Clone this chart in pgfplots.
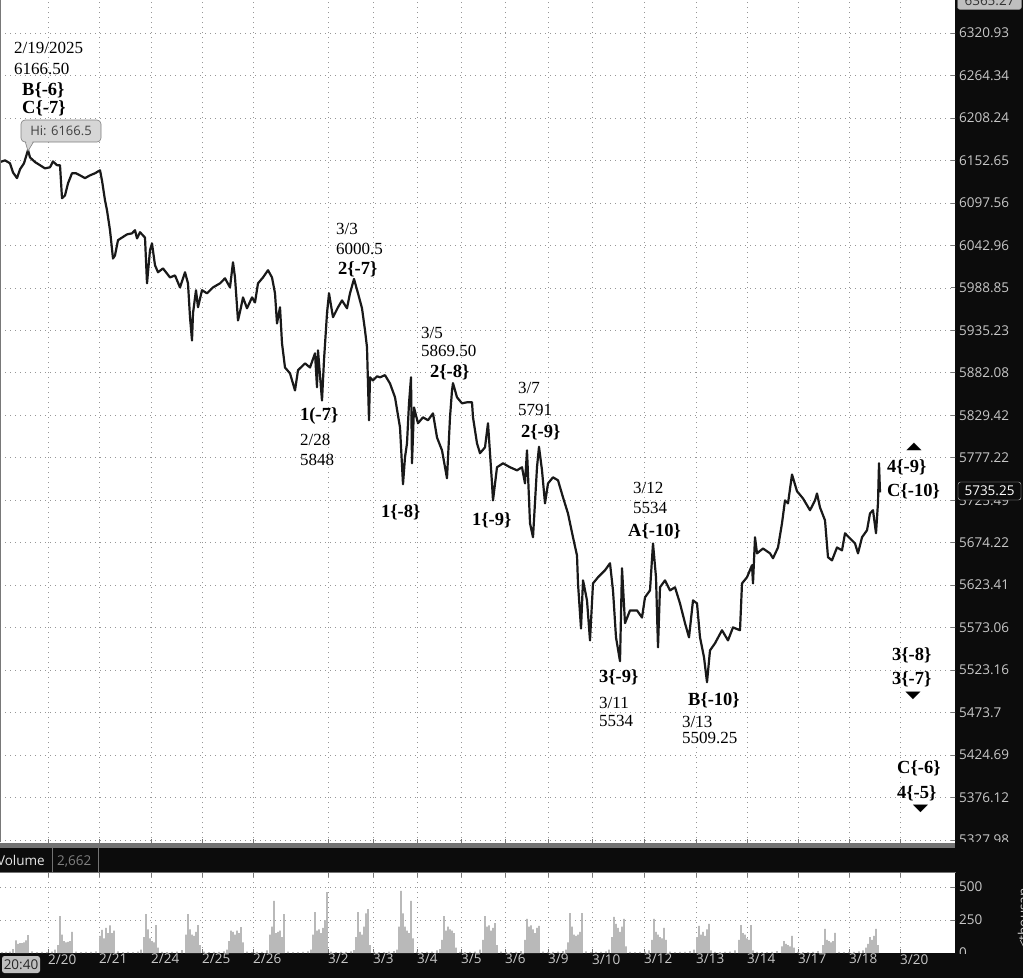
\documentclass[border=0pt]{standalone}
\usepackage{pgfplots}
\pgfplotsset{compat=1.18}
\usepackage{graphicx}
\usepackage{fontspec}
\setmainfont{Liberation Serif}
\newfontfamily\uifont{Open Sans}
\newfontfamily\symfont{DejaVu Sans}
\definecolor{bg}{RGB}{12,12,12}
\definecolor{axtxt}{RGB}{200,200,200}
\definecolor{gridc}{RGB}{150,150,150}
\definecolor{volc}{RGB}{185,185,185}
\definecolor{sepc}{RGB}{115,115,115}
\definecolor{tickc}{RGB}{120,120,120}
\tikzset{
  ann/.style={font=\fontsize{17}{19}\selectfont, inner sep=0pt, anchor=base west},
  annb/.style={font=\fontsize{18.5}{20}\selectfont\bfseries, inner sep=0pt, anchor=base west},
  dotgrid/.style={gridc, line width=0.7pt, dash pattern=on 0.7pt off 4.3pt}
}
\begin{document}
\begin{tikzpicture}[x=1pt,y=1pt]
\useasboundingbox (0,0) rectangle (1023,-978);
\clip (0,0) rectangle (1023,-978);
\fill[bg] (0,0) rectangle (1023,-978);
% separator band and volume header
\fill[sepc] (0,-842) rectangle (955,-847);
\draw[sepc, line width=0.8pt, fill=bg] (-2,-847.5) rectangle (955,-872);
\draw[sepc, line width=0.8pt] (52,-848) -- (52,-872);
\draw[sepc, line width=0.8pt] (98,-848) -- (98,-872);
\node[font=\uifont\fontsize{13.5}{15}\selectfont, text=white!90!black, anchor=base east, inner sep=0pt] at (45,-865) {Volume};
\node[font=\uifont\fontsize{13.5}{15}\selectfont, text=gray, anchor=base west, inner sep=0pt] at (57,-865) {2,662};

% ---------------- price panel (log price scale: y shown as 1000*(ln(price)-8.58)) ----------------
\begin{axis}[
  at={(0pt,-843pt)}, anchor=south west,
  scale only axis, width=955pt, height=843pt,
  axis background/.style={fill=white},
  xmin=0, xmax=955,
  y filter/.expression={(ln(y)-8.58)*1000},
  ymin=0.093, ymax=178.61,
  axis line style={draw=none},
  xtick={48,99,151,202,253,328,373,417,461,505,548,592,644,696,747,798,849,900},
  xticklabels={},
  xtick pos=bottom,
  ytick={0.73,9.72,18.71,27.71,36.70,45.70,54.69,63.68,72.68,81.67,90.67,99.66,108.65,117.65,126.64,135.63,144.63,153.62,162.62,171.61},
  yticklabels={5327.98,5376.12,5424.69,5473.7,5523.16,5573.06,5623.41,5674.22,5725.49,5777.22,5829.42,5882.08,5935.23,5988.85,6042.96,6097.56,6152.65,6208.24,6264.34,6320.93},
  ytick pos=right, yticklabel pos=right,
  tick align=inside, major tick length=4pt,
  tick style={tickc, line width=0.8pt},
  grid=major, major grid style={dotgrid},
  yticklabel style={font=\uifont\fontsize{13.5}{15}\selectfont, text=axtxt, anchor=west, inner sep=0pt, xshift=4pt},
]
\addplot[black!90, line width=2.2pt, line join=round] coordinates {
(0,6150.6)(5,6153.2)(10,6149.3)(13,6137.6)(17,6129.9)(20,6141.5)(24,6149.3)(28,6166.5)
(30,6157.1)(35,6150.6)(40,6146.7)(45,6142.8)(50,6144.1)(53,6151.9)(57,6146.7)(60,6146.7)
(62,6103.9)(65,6107.8)(68,6123.4)(72,6136.3)(76,6136.3)(80,6133.7)(85,6129.9)(90,6133.7)
(95,6136.3)(100,6140.2)(102,6127.2)(105,6101.3)(107,6088.4)(110,6062.7)(113,6026.8)
(115,6030.6)(118,6049.9)(122,6053.7)(127,6057.6)(132,6058.9)(135,6062.7)(137,6052.4)
(140,6060.1)(145,6053.7)(147,5995.0)(150,6037.0)(152,6046.0)(155,6017.9)(158,6009.0)
(163,6014.1)(170,6002.6)(175,6005.2)(180,5989.9)(185,6009.0)(188,5995.0)(190,5952.0)
(192,5923.1)(193,5957.0)(196,5986.1)(198,5964.6)(202,5986.1)(207,5982.3)(213,5989.9)
(220,5995.0)(225,6001.4)(230,5989.9)(233,6021.7)(235,6002.6)(238,5948.2)(241,5964.6)
(243,5977.2)(247,5963.3)(252,5977.2)(255,5970.9)(258,5995.0)(263,6002.6)(268,6011.6)
(272,6002.6)(275,5982.3)(277,5944.4)(280,5964.6)(282,5919.3)(285,5889.3)(290,5881.8)
(295,5860.7)(298,5885.6)(305,5894.3)(310,5889.3)(315,5906.8)(317,5864.4)(318,5910.5)
(322,5848.0)(324,5898.1)(327,5957.0)(329,5982.3)(333,5952.0)(338,5964.6)
(342,5973.4)(347,5963.3)(350,5982.3)(354,6000.5)(358,5982.3)
(362,5963.3)(365,5935.7)(367,5914.3)(369,5823.6)(370,5876.9)(373,5873.1)(377,5878.1)
(380,5876.9)(385,5879.4)(390,5869.4)(395,5852.0)(400,5814.9)(403,5745.1)(405,5778.1)
(407,5795.2)(409,5844.5)(411,5876.9)(412,5770.7)(414,5839.6)(418,5819.9)(423,5827.3)
(428,5823.6)(433,5832.2)(437,5802.6)(442,5786.6)(447,5752.4)(450,5827.3)(452,5860.7)
(453,5869.5)(457,5852.0)(462,5844.5)(467,5845.7)(472,5845.7)(473,5827.3)(477,5795.2)
(480,5783.0)(485,5790.3)(488,5819.9)(492,5746.3)(493,5725.6)(497,5765.9)(503,5770.7)
(510,5765.9)(517,5762.2)(522,5765.9)(525,5746.3)(527,5786.6)(530,5697.9)(533,5681.0)
(537,5765.9)(539,5791.0)(542,5762.2)(545,5722.0)(548,5746.3)(553,5753.7)(558,5750.0)
(563,5729.3)(568,5709.9)(573,5681.0)(577,5659.3)(578,5625.9)(581,5572.6)(583,5629.5)
(587,5605.6)(590,5558.4)(593,5625.9)(598,5633.1)(605,5641.4)(610,5649.8)(613,5617.5)
(616,5561.9)(620,5534.0)(622,5643.8)(625,5578.5)(630,5593.8)(637,5593.8)(642,5585.5)
(645,5609.2)(650,5617.5)(653,5673.7)(656,5633.1)(658,5550.1)(660,5621.1)(665,5629.5)
(670,5617.5)(675,5621.1)(680,5602.1)(685,5578.5)(689,5561.9)(693,5605.6)(697,5602.1)
(700,5561.9)(704,5538.4)(707,5509.25)(710,5546.6)(715,5554.9)(722,5570.2)(728,5558.4)
(733,5573.8)(740,5570.2)(742,5625.9)(747,5633.1)(752,5647.4)(753,5625.9)(755,5681.0)
(757,5661.7)(763,5667.7)(770,5661.7)(773,5655.7)(778,5668.9)(782,5697.9)(785,5725.6)
(788,5722.0)(792,5757.3)(797,5736.6)(803,5728.0)(810,5713.5)(815,5725.6)(817,5734.1)
(820,5717.2)(825,5701.5)(828,5657.0)(832,5653.4)(837,5668.9)(842,5665.3)(845,5685.8)
(850,5679.8)(855,5673.7)(858,5661.7)(862,5681.0)(867,5689.4)(870,5710.0)(873,5713.5)
(876,5685.8)(878,5723.2)(879,5770.7)(880,5735.25)
};
\end{axis}

% ---------------- volume panel ----------------
\begin{axis}[
  at={(0pt,-953pt)}, anchor=south west,
  scale only axis, width=955pt, height=80pt,
  axis background/.style={fill=white},
  xmin=0, xmax=955, ymin=0, ymax=606,
  axis line style={draw=none},
  xtick={48,99,151,202,253,328,373,417,461,505,548,592,644,696,747,798,849,900},
  xticklabels={2/20,2/21,2/24,2/25,2/26,3/2,3/3,3/4,3/5,3/6,3/9,3/10,3/12,3/13,3/14,3/17,3/18,3/20},
  xtick pos=both, xticklabel pos=lower,
  ytick={250,500}, yticklabels={250,500},
  ytick pos=right, yticklabel pos=right,
  tick align=inside, major tick length=4pt,
  tick style={tickc, line width=0.8pt},
  grid=major, major grid style={dotgrid},
  yticklabel style={font=\uifont\fontsize{13.5}{15}\selectfont, text=axtxt, anchor=west, inner sep=0pt, xshift=4pt},
  xticklabel style={font=\uifont\fontsize{13.5}{15}\selectfont, text=axtxt, anchor=north west, inner sep=0pt, yshift=-1pt},
]
\addplot[ybar, bar width=1.7, fill=volc, draw=none] coordinates {
(2,6)(6,8)(10,10)(13,30)
(16,95)(18,70)(20,75)(22,75)(24,80)(26,95)(28,135)
(32,12)(37,6)(42,8)(47,6)(52,10)(55,25)
(58,60)(60,280)(62,140)(64,90)(66,80)(68,85)(70,90)(72,160)
(76,10)(81,6)(86,8)(91,8)(96,12)
(100,130)(102,175)(104,110)(106,190)(108,150)(110,210)(112,150)(114,170)
(118,12)(123,6)(128,8)(133,6)(138,10)(141,25)
(144,120)(146,295)(148,180)(150,110)(152,90)(154,80)(156,212)(158,40)
(162,8)(167,6)(172,8)(177,10)(182,22)
(186,140)(188,295)(190,180)(192,140)(194,130)(196,160)(198,212)(200,60)
(204,10)(209,6)(214,8)(219,8)(224,12)(227,25)
(229,90)(231,170)(233,160)(235,140)(237,170)(239,150)(241,197)(243,80)
(247,10)(252,6)(257,8)(262,8)(267,20)
(270,140)(272,200)(274,394)(276,150)(278,160)(280,170)(282,120)(284,295)
(288,10)(293,6)(298,6)(303,8)(308,12)(311,25)
(313,140)(315,310)(317,170)(319,180)(321,150)(323,190)(325,250)(327,462)
(331,10)(336,6)(341,8)(346,8)(351,12)(354,22)
(356,120)(358,310)(360,160)(362,140)(364,200)(366,300)(368,333)(370,60)
(374,8)(379,6)(384,6)(389,10)(394,15)(397,25)
(399,200)(401,470)(403,300)(405,200)(407,170)(409,150)(411,394)(413,110)
(417,10)(422,6)(427,8)(432,10)(437,20)(440,30)
(442,100)(444,280)(446,170)(448,200)(450,180)(452,170)(454,150)(456,40)
(460,8)(465,6)(470,8)(475,10)(480,25)
(483,100)(485,280)(487,200)(489,210)(491,170)(493,190)(495,227)(497,60)
(501,10)(506,6)(511,6)(516,8)(521,15)
(525,100)(527,258)(529,200)(531,210)(533,180)(535,150)(537,190)(539,205)
(543,10)(548,6)(553,8)(558,10)(563,15)(566,25)
(568,80)(570,303)(572,200)(574,140)(576,130)(578,140)(580,160)(582,303)
(586,12)(591,6)(596,8)(601,8)(606,12)(609,25)
(612,120)(614,273)(616,220)(618,190)(620,160)(622,200)(624,258)(626,50)
(630,8)(635,6)(640,8)(645,10)(649,20)
(652,100)(654,258)(656,160)(658,140)(660,120)(662,110)(664,190)(666,100)
(670,10)(675,6)(680,8)(685,8)(690,15)(694,25)
(697,120)(699,205)(701,140)(703,160)(705,130)(707,180)(709,220)(711,20)
(715,8)(720,6)(725,8)(730,10)(735,20)
(739,100)(741,212)(743,150)(745,140)(747,110)(749,100)(751,212)(753,20)
(757,8)(762,6)(767,6)(772,8)(777,15)
(782,50)(784,90)(786,70)(788,60)(790,50)(792,129)(794,40)
(798,8)(803,6)(808,6)(813,8)(818,15)
(823,60)(825,182)(827,100)(829,90)(831,80)(833,90)(835,152)
(839,8)(844,6)(849,6)(854,8)(859,12)(863,20)
(866,40)(868,70)(870,120)(872,100)(874,130)(876,182)(878,60)
};
\end{axis}

% right-strip covers and labels
\fill[bg] (955,-842) rectangle (1023,-872);
\begin{scope}
\clip (955,-940) rectangle (1023,-953);
\node[font=\uifont\fontsize{13.5}{15}\selectfont, text=axtxt, anchor=west, inner sep=0pt] at (959,-953) {0};
\end{scope}
\begin{scope}
\clip (1000,-888) rectangle (1023,-953);
\node[font=\uifont\fontsize{13.5}{15}\selectfont, text=axtxt, rotate=90, anchor=west, inner sep=0pt] at (1023,-948) {<thousands>};
\end{scope}
\node[draw=white!80!black, fill=bg, rounded corners=2.5pt, font=\uifont\fontsize{13.5}{15}\selectfont, text=white, inner sep=1.5pt, minimum height=18pt, minimum width=63pt] at (989.5,-491) {5735.25};
\node[draw=gray, fill=white!75!black, rounded corners=2.5pt, font=\uifont\fontsize{13.5}{15}\selectfont, text=black!80, inner sep=1.5pt, minimum height=18pt, minimum width=64pt] at (989.5,-0.5) {6365.27};
\node[fill=white!75!black, rounded corners=2.5pt, font=\uifont\fontsize{13.5}{15}\selectfont, text=black!85, inner sep=1.5pt, minimum height=17pt, minimum width=38pt] at (21,-964.5) {20:40};
\draw[tickc, line width=0.8pt] (0.8,0) -- (0.8,-842);

% Hi callout
\fill[white!84!black, draw=gray, line width=0.6pt] (25,-141) -- (28,-151) -- (34,-141);
\node[fill=white!84!black, draw=gray, line width=0.6pt, rounded corners=4pt, minimum width=80pt, minimum height=22pt, font=\uifont\fontsize{13}{15}\selectfont, text=black!75, inner sep=0pt] at (61,-131) {Hi: 6166.5};
\fill[white!84!black] (25.6,-140) -- (28.3,-148) -- (33.4,-140) -- cycle;

% annotations
\node[ann] at (14,-53) {2/19/2025};
\node[ann] at (14,-74) {6166.50};
\node[annb] at (22,-95) {B\{-6\}};
\node[annb] at (22,-113) {C\{-7\}};
\node[ann] at (336,-234) {3/3};
\node[ann] at (336,-254) {6000.5};
\node[annb] at (338,-274) {2\{-7\}};
\node[ann] at (421,-338) {3/5};
\node[ann] at (421,-356) {5869.50};
\node[annb] at (430,-377) {2\{-8\}};
\node[ann] at (518,-393) {3/7};
\node[ann] at (518,-415) {5791};
\node[annb] at (521,-437) {2\{-9\}};
\node[annb] at (300,-420) {1(-7\}};
\node[ann] at (300,-445) {2/28};
\node[ann] at (300,-465) {5848};
\node[annb] at (381,-517) {1\{-8\}};
\node[annb] at (472,-525) {1\{-9\}};
\node[ann] at (633,-493) {3/12};
\node[ann] at (633,-513) {5534};
\node[annb] at (628,-536) {A\{-10\}};
\node[annb] at (599,-682) {3\{-9\}};
\node[ann] at (599,-708) {3/11};
\node[ann] at (599,-726) {5534};
\node[annb] at (688,-705) {B\{-10\}};
\node[ann] at (682,-727) {3/13};
\node[ann] at (682,-743) {5509.25};
\node[annb] at (887,-472) {4\{-9\}};
\node[annb] at (887,-496) {C\{-10\}};
\node[annb] at (892,-660) {3\{-8\}};
\node[annb] at (892,-684) {3\{-7\}};
\node[annb] at (897,-773) {C\{-6\}};
\node[annb] at (897,-798) {4\{-5\}};
\node[font=\symfont\fontsize{20}{20}\selectfont, inner sep=0pt] at (914,-447) {\scalebox{1}[0.5]{▲}};
\node[font=\symfont\fontsize{20}{20}\selectfont, inner sep=0pt] at (913,-695.5) {\scalebox{1}[0.5]{▼}};
\node[font=\symfont\fontsize{20}{20}\selectfont, inner sep=0pt] at (920.5,-809) {\scalebox{1}[0.5]{▼}};
\end{tikzpicture}
\end{document}
